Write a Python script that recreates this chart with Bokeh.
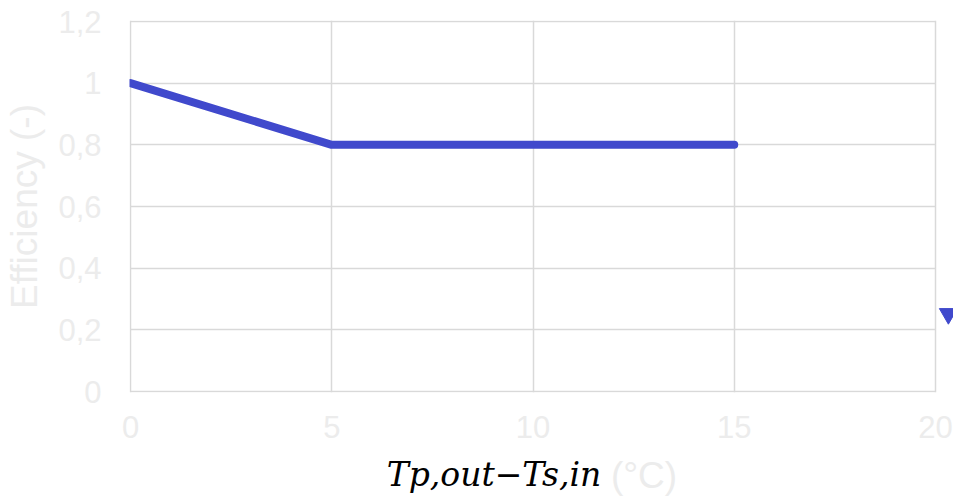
from bokeh.plotting import figure
from bokeh.models import Range1d, FixedTicker, CustomJSTickFormatter, LinearAxis
from bokeh.embed import file_html
from bokeh.resources import INLINE

# ---- data ----
delta_t = [0, 5, 15]
efficiency = [1.0, 0.8, 0.8]
marker_x = [20.32]
marker_y = [0.252]
x_ticks = [0, 5, 10, 15, 20]
y_ticks = [0, 0.2, 0.4, 0.6, 0.8, 1.0, 1.2]
y_title = "Efficiency (-)"
x_title_math = "Tp,out\u2212Ts,in"
x_title_unit = "(°C)"

LINE = "#4049CC"
GRID = "#d9d9d9"
PALE = "#ececec"
PX_X = 20 / 805      # data units per pixel (x)
PX_Y = 1.2 / 370     # data units per pixel (y)

p = figure(width=953, height=499, output_backend="svg", toolbar_location=None,
           x_axis_location=None,
           x_range=Range1d(-PX_X, 20 + 18 * PX_X), y_range=Range1d(-PX_Y, 1.2 + PX_Y),
           min_border_left=129, min_border_right=0, min_border_top=20, min_border_bottom=107)
p.outline_line_color = None

for g in (p.xgrid[0], p.ygrid[0]):
    g.grid_line_color = GRID
    g.grid_line_width = 1.5
p.xgrid[0].ticker = FixedTicker(ticks=x_ticks)
p.ygrid[0].ticker = FixedTicker(ticks=y_ticks)
if "cross_bounds" in p.ygrid[0].properties():
    p.ygrid[0].cross_bounds = (x_ticks[0], x_ticks[-1])
else:
    p.ygrid[0].grid_line_color = None
    p.segment(x0=[x_ticks[0]] * len(y_ticks), x1=[x_ticks[-1]] * len(y_ticks),
              y0=y_ticks, y1=y_ticks, line_color=GRID, line_width=1.5)

p.line(delta_t, efficiency, line_color=LINE, line_width=8, line_cap="round", line_join="round")
p.scatter(marker_x, marker_y, marker="inverted_triangle", size=18,
          fill_color=LINE, line_color=LINE)


def plain(ax):
    ax.axis_line_color = None
    ax.major_tick_line_color = None
    ax.minor_tick_line_color = None
    ax.major_tick_in = 0
    ax.major_tick_out = 0
    ax.minor_tick_in = 0
    ax.minor_tick_out = 0


def title_axis(text, centre, font, size, style, color, standoff):
    ax = LinearAxis(ticker=FixedTicker(ticks=[centre]),
                    formatter=CustomJSTickFormatter(args=dict(t=text), code="return t;"))
    plain(ax)
    ax.major_label_text_font = font
    ax.major_label_text_font_size = size
    ax.major_label_text_font_style = style
    ax.major_label_text_color = color
    ax.major_label_standoff = standoff
    p.add_layout(ax, "below")
    return ax


# x-axis title (black italic math part, then the pale unit), then the tick labels
title_axis(x_title_math, 9.03, "DejaVu Serif", "33px", "italic", "#000000", 62)
title_axis(x_title_unit, 12.76, "Liberation Sans", "37px", "normal", PALE, -42)

xax = LinearAxis(ticker=FixedTicker(ticks=x_ticks))
plain(xax)
xax.major_label_text_font = "Liberation Sans"
xax.major_label_text_font_size = "31px"
xax.major_label_text_color = PALE
xax.major_label_standoff = -83
p.add_layout(xax, "below")

yax = p.yaxis[0]
plain(yax)
yax.ticker = FixedTicker(ticks=y_ticks)
yax.formatter = CustomJSTickFormatter(
    code="return (Math.round(tick*10)/10).toString().replace('.', ',');")
yax.major_label_text_font = "Liberation Sans"
yax.major_label_text_font_size = "31px"
yax.major_label_text_color = PALE
yax.major_label_standoff = 28
yax.axis_label = y_title
yax.axis_label_text_font = "Liberation Sans"
yax.axis_label_text_font_style = "normal"
yax.axis_label_text_font_size = "37px"
yax.axis_label_text_color = PALE
yax.axis_label_standoff = 10

open("out.html", "w").write(file_html(p, INLINE))
